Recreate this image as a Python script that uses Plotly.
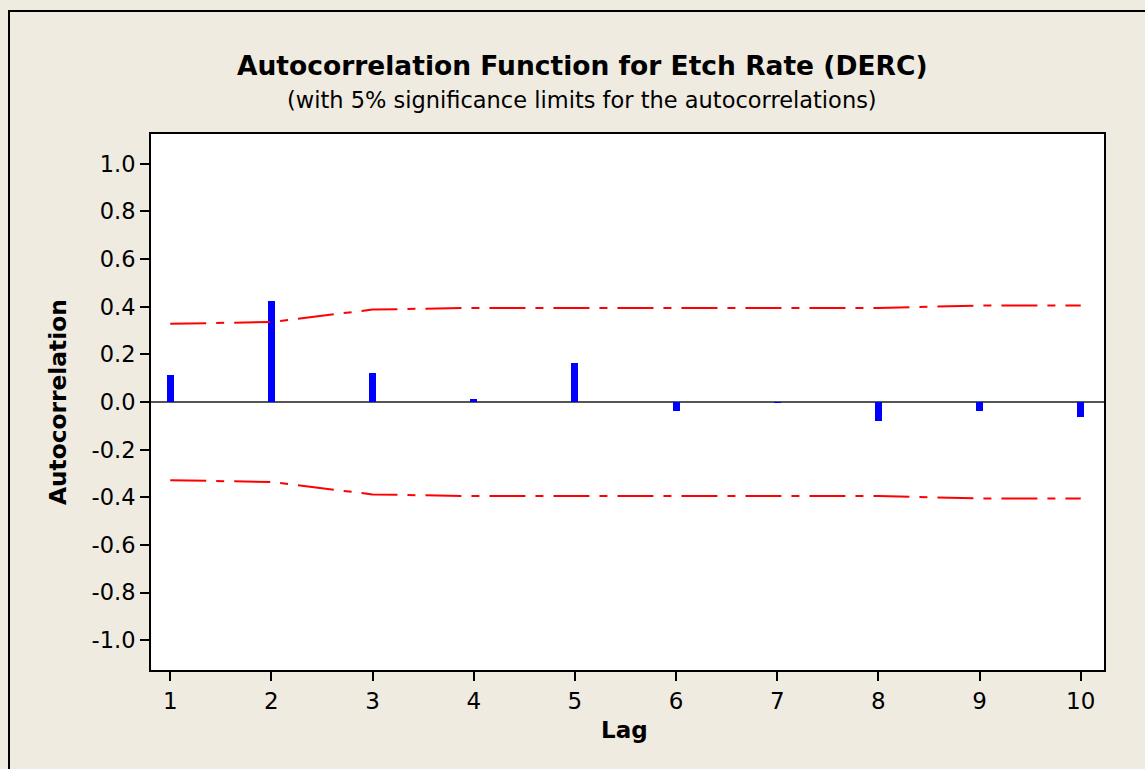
import plotly.graph_objects as go

lags = [1, 2, 3, 4, 5, 6, 7, 8, 9, 10]
acf = [0.112, 0.423, 0.122, 0.013, 0.164, -0.037, -0.004, -0.079, -0.037, -0.062]
upper = [0.328, 0.336, 0.388, 0.395, 0.395, 0.395, 0.395, 0.395, 0.405, 0.405]
lower = [-u for u in upper]
yticks = [-1.0, -0.8, -0.6, -0.4, -0.2, 0.0, 0.2, 0.4, 0.6, 0.8, 1.0]

W, H = 1145, 769
L, R, T, B = 151, 1104, 134, 670
pw, ph = R - L, B - T

def px(x):
    return (x - L) / pw

def py(y):
    return (B - y) / ph

FONT = "DejaVu Sans"
dash = "36px,10px,8px,10px"

fig = go.Figure()
fig.add_trace(go.Bar(x=lags, y=acf, width=0.068, marker=dict(color="#0000FF", line=dict(width=0)),
                     showlegend=False))
fig.add_trace(go.Scatter(x=lags, y=upper, mode="lines", line=dict(color="#FF0000", width=2, dash=dash),
                         showlegend=False))
fig.add_trace(go.Scatter(x=lags, y=lower, mode="lines", line=dict(color="#FF0000", width=2, dash=dash),
                         showlegend=False))

fig.update_layout(
    width=W, height=H,
    margin=dict(l=L, r=W - R, t=T, b=H - B),
    paper_bgcolor="#EFEBE1",
    plot_bgcolor="#FFFFFF",
    font=dict(family=FONT, color="#000000"),
    showlegend=False,
    bargap=0,
)
fig.update_xaxes(range=[0.81, 10.23], tickvals=lags, ticktext=[str(v) for v in lags],
                 ticks="outside", ticklen=9, tickwidth=2, tickcolor="#000",
                 showgrid=False, zeroline=False, showline=True, linecolor="#000", linewidth=2, mirror=True,
                 tickfont=dict(size=23, family=FONT))
fig.update_yaxes(range=[-1.125, 1.125], tickvals=yticks, ticktext=[f"{v:.1f}" for v in yticks],
                 ticks="outside", ticklen=9, tickwidth=2, tickcolor="#000",
                 showgrid=False, zeroline=True, zerolinecolor="#555555", zerolinewidth=1.5,
                 showline=True, linecolor="#000", linewidth=2, mirror=True,
                 tickfont=dict(size=22.5, family=FONT))

# outer border
fig.add_shape(type="rect", xref="paper", yref="paper", x0=px(9), x1=px(1300), y0=py(900), y1=py(11),
              line=dict(color="#000", width=2), layer="below")

fig.add_annotation(text="<b>Autocorrelation Function for Etch Rate (DERC)</b>", xref="paper", yref="paper",
                   x=px(582), y=py(66), showarrow=False, font=dict(size=26.5, family=FONT),
                   xanchor="center", yanchor="middle")
fig.add_annotation(text="(with 5% significance limits for the autocorrelations)", xref="paper", yref="paper",
                   x=px(582), y=py(100), showarrow=False, font=dict(size=22.5, family=FONT),
                   xanchor="center", yanchor="middle")
fig.add_annotation(text="<b>Autocorrelation</b>", xref="paper", yref="paper",
                   x=px(57), y=py(402), showarrow=False, textangle=-90, font=dict(size=23.3, family=FONT),
                   xanchor="center", yanchor="middle")
fig.add_annotation(text="<b>Lag</b>", xref="paper", yref="paper",
                   x=px(624), y=py(730), showarrow=False, font=dict(size=23, family=FONT),
                   xanchor="center", yanchor="middle")

fig.write_html("out.html")
